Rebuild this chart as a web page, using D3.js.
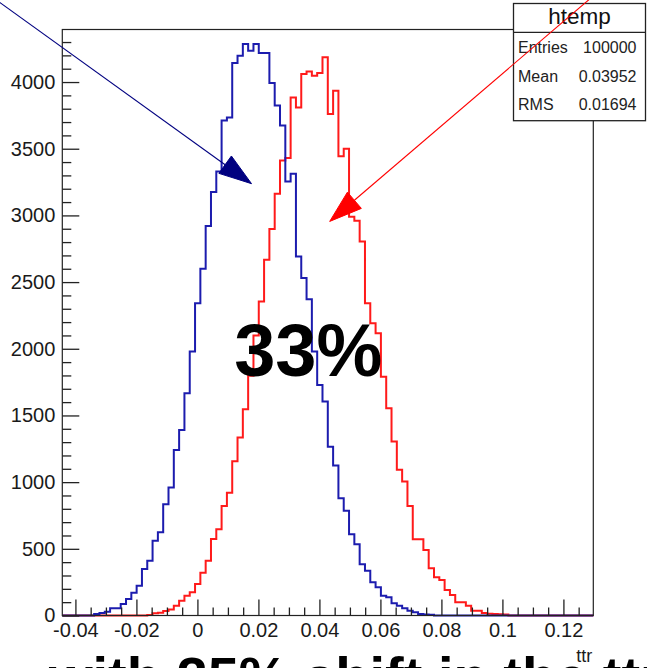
<!DOCTYPE html>
<html><head><meta charset="utf-8">
<script src="https://cdn.jsdelivr.net/npm/d3@7"></script>
<style>
html,body{margin:0;padding:0;background:#fff;overflow:hidden}
svg{display:block}
text{font-family:"Liberation Sans",Arial,Helvetica,sans-serif}
</style></head><body>
<svg id="c" width="647" height="668"></svg>
<script>
// ---------------- data ----------------
const xRange = [-0.0443, 0.1298];   // histogram axis range (100 bins)
const nBins = 100;
const yMax = 4394;                   // 1.05 * max bin of htemp

// blue histogram (second, drawn "same")
const blueCounts = [
  0,0,0,0,0,0,12,18,28,54,
  54,86,124,171,224,349,411,561,624,834,
  959,1241,1391,1667,1979,2342,2600,2920,3175,3330,
  3712,3735,4142,4197,4285,4235,4285,4217,4217,3993,
  3824,3674,3254,3312,2692,2530,2372,1979,1729,1604,
  1266,1124,879,786,609,534,384,336,249,211,
  149,136,91,74,54,36,24,12,8,5,
  0,0,0,0,0,0,0,0,0,0,
  0,0,0,0,0,0,0,0,0,0,
  0,0,0,0,0,0,0,0,0,0
];
// red histogram (htemp)
const redCounts = [
  0,0,0,0,0,0,0,0,0,0,
  0,0,0,0,0,0,4,16,20,34,
  45,74,110,149,174,236,321,411,574,647,
  821,921,1157,1334,1547,1797,2100,2354,2667,2899,
  3162,3412,3430,3885,3810,4060,4080,4047,4067,4185,
  3760,3935,3443,3500,2990,2960,2804,2342,2192,2117,
  1791,1554,1304,1092,1004,821,572,572,491,354,
  287,266,191,154,99,99,74,36,36,18,
  14,12,10,8,0,0,0,0,0,0,
  0,0,0,0,0,0,0,0,0,0
];

const xTicks = [-0.04,-0.02,0,0.02,0.04,0.06,0.08,0.1,0.12];
const xTickLabels = ["-0.04","-0.02","0","0.02","0.04","0.06","0.08","0.1","0.12"];
const xMinorStep = 0.005;
const yTicks = [0,500,1000,1500,2000,2500,3000,3500,4000];
const yTickLabels = ["0","500","1000","1500","2000","2500","3000","3500","4000"];
const yMinorStep = 100;
const xTitle = "ttr";

const statsTitle = "htemp";
const statsLabels = ["Entries","Mean","RMS"];
const statsValues = ["100000","0.03952","0.01694"];

// annotations (data coordinates)
const blueArrow = {from:[-0.06628,4621], to:[0.01774,3238]};
const redArrow  = {from:[0.1290,4630],  to:[0.04337,2955]};
const bigLabel  = {text:"33%", at:[0.03633,1797]};
const bottomText = "with 25% shift in the ttr distribution";

// ---------------- layout ----------------
const W = 647, H = 668;
const frame = {l:62.3, r:593.3, t:29.5, b:615.5};
const svg = d3.select("#c");
svg.append("rect").attr("width",W).attr("height",H).attr("fill","#fff");

const x = d3.scaleLinear().domain(xRange).range([frame.l, frame.r]);
const y = d3.scaleLinear().domain([0, yMax]).range([frame.b, frame.t]);
const binW = (xRange[1]-xRange[0])/nBins;

function histPoints(counts){
  const pts = [[xRange[0],0]];
  counts.forEach((c,i)=>{
    const e0 = xRange[0]+i*binW, e1 = xRange[0]+(i+1)*binW;
    pts.push([e0,c],[e1,c]);
  });
  pts.push([xRange[1],0]);
  return pts;
}
const line = d3.line().x(d=>x(d[0])).y(d=>y(d[1]));

const plot = svg.append("g");
plot.append("path").datum(histPoints(redCounts))
  .attr("d",line).attr("fill","none").attr("stroke","#ff1a1a")
  .attr("stroke-width",2).attr("stroke-linejoin","miter");
plot.append("path").datum(histPoints(blueCounts))
  .attr("d",line).attr("fill","none").attr("stroke","#1c1cae")
  .attr("stroke-width",2).attr("stroke-linejoin","miter");

// frame
svg.append("rect").attr("x",frame.l).attr("y",frame.t)
  .attr("width",frame.r-frame.l).attr("height",frame.b-frame.t)
  .attr("fill","none").attr("stroke","#222").attr("stroke-width",1.2);

// y axis
const yMinor = d3.range(0, yMax, yMinorStep).filter(v=>!yTicks.includes(v));
const yAx = svg.append("g").attr("transform",`translate(${frame.l},0)`)
  .call(d3.axisLeft(y).tickValues(yTicks).tickFormat((d,i)=>yTickLabels[i])
        .tickSizeInner(-17).tickSizeOuter(0).tickPadding(7));
const yAxm = svg.append("g").attr("transform",`translate(${frame.l},0)`)
  .call(d3.axisLeft(y).tickValues(yMinor).tickFormat("")
        .tickSizeInner(-9).tickSizeOuter(0));
// x axis
const xMinor = d3.range(-0.04, xRange[1], xMinorStep)
  .filter(v=>!xTicks.some(t=>Math.abs(t-v)<1e-9));
const xAx = svg.append("g").attr("transform",`translate(0,${frame.b})`)
  .call(d3.axisBottom(x).tickValues(xTicks).tickFormat((d,i)=>xTickLabels[i])
        .tickSizeInner(-16).tickSizeOuter(0).tickPadding(7.5));
const xAxm = svg.append("g").attr("transform",`translate(0,${frame.b})`)
  .call(d3.axisBottom(x).tickValues(xMinor).tickFormat("")
        .tickSizeInner(-8).tickSizeOuter(0));
[yAx,yAxm,xAx,xAxm].forEach(g=>{
  g.select(".domain").remove();
  g.selectAll(".tick line").attr("stroke","#222").attr("stroke-width",1.3);
  g.selectAll(".tick text").attr("fill","#1a1a1a").attr("font-size",20)
    .attr("font-family","'Liberation Sans',Arial,Helvetica,sans-serif");
});

svg.append("text").attr("x",frame.r-1).attr("y",662)
  .attr("text-anchor","end").attr("font-size",18).attr("fill","#1a1a1a").text(xTitle);

// stats box
const sb = {x:513.5, y:3.5, w:132, h:117.2, hdr:28.8};
const stats = svg.append("g");
stats.append("rect").attr("x",sb.x).attr("y",sb.y).attr("width",sb.w).attr("height",sb.h)
  .attr("fill","#fff").attr("stroke","#222").attr("stroke-width",1.3);
stats.append("line").attr("x1",sb.x).attr("x2",sb.x+sb.w)
  .attr("y1",sb.y+sb.hdr).attr("y2",sb.y+sb.hdr).attr("stroke","#222").attr("stroke-width",1.3);
stats.append("text").attr("x",sb.x+sb.w/2).attr("y",24).attr("text-anchor","middle")
  .attr("font-size",22.5).attr("fill","#111").text(statsTitle);
statsLabels.forEach((lab,i)=>{
  const yy = 53 + i*28.7;
  stats.append("text").attr("x",sb.x+4.5).attr("y",yy).attr("font-size",16)
    .attr("fill","#222").text(lab);
  stats.append("text").attr("x",sb.x+sb.w-9).attr("y",yy).attr("text-anchor","end")
    .attr("font-size",16).attr("fill","#222").text(statsValues[i]);
});

// arrows
function arrow(a, color){
  const p0 = [x(a.from[0]), y(a.from[1])], p1 = [x(a.to[0]), y(a.to[1])];
  const dx = p1[0]-p0[0], dy = p1[1]-p0[1], L = Math.hypot(dx,dy);
  const ux = dx/L, uy = dy/L, len = 32.5, hw = 10.7;
  const bx = p1[0]-ux*len, by = p1[1]-uy*len;
  svg.append("line").attr("x1",p0[0]).attr("y1",p0[1]).attr("x2",bx).attr("y2",by)
    .attr("stroke",color).attr("stroke-width",1.1);
  svg.append("path")
    .attr("d",`M${p1[0]},${p1[1]}L${bx-uy*hw},${by+ux*hw}L${bx+uy*hw},${by-ux*hw}Z`)
    .attr("fill",color).attr("stroke",color).attr("stroke-width",1);
}
arrow(blueArrow, "#000080");
arrow(redArrow, "#ff0000");

// big label
svg.append("text").attr("x",x(bigLabel.at[0])).attr("y",y(bigLabel.at[1]))
  .attr("text-anchor","middle").attr("font-size",74).attr("font-weight","bold")
  .attr("fill","#000").text(bigLabel.text);

// cut-off caption at the bottom
svg.append("text").attr("x",49).attr("y",696).attr("font-size",56)
  .attr("font-weight","bold").attr("fill","#000").text(bottomText);
</script>
</body></html>
